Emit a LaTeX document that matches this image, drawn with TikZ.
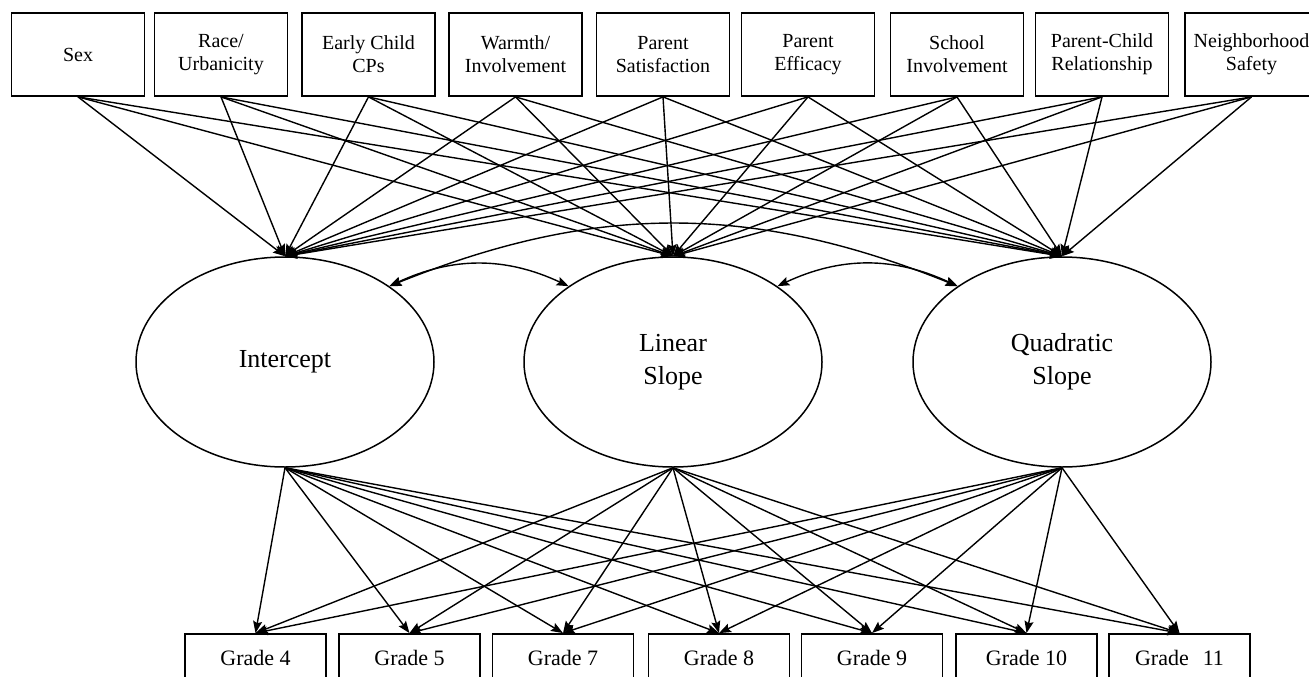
\documentclass[tikz,border=0pt]{standalone}
\usepackage{fontspec}
\setmainfont{Liberation Serif}
\usetikzlibrary{arrows.meta,shapes.geometric}
\begin{document}
\begin{tikzpicture}[x=1pt,y=-1pt,
  tbox/.style={draw,line width=1.8pt,minimum width=133pt,minimum height=83pt,inner sep=0pt,align=center,font=\fontsize{20}{23}\selectfont},
  gbox/.style={draw,line width=1.8pt,minimum width=141pt,minimum height=48pt,inner sep=0pt,font=\fontsize{22}{26}\selectfont},
  latent/.style={draw,ellipse,line width=1.5pt,minimum width=298pt,minimum height=210pt,inner sep=0pt,align=center,font=\fontsize{26}{33}\selectfont},
  reg/.style={line width=1.4pt,-{Stealth[length=12pt,width=9pt,inset=2pt]}},
  cov/.style={line width=1.4pt,{Stealth[length=12pt,width=9pt,inset=2pt]}-{Stealth[length=12pt,width=9pt,inset=2pt]}}]
\path[use as bounding box] (0,0) rectangle (1309,677);
\clip (0,0) rectangle (1309,677);
% predictors
\node[tbox] (t1) at (78,54.5) {Sex};
\node[tbox] (t2) at (221,54.5) {Race/\\Urbanicity};
\node[tbox] (t3) at (368.5,54.5) {Early Child\\CPs};
\node[tbox] (t4) at (515.5,54.5) {Warmth/\\Involvement};
\node[tbox] (t5) at (663,54.5) {Parent\\Satisfaction};
\node[tbox] (t6) at (808,54.5) {Parent\\Efficacy};
\node[tbox] (t7) at (957,54.5) {School\\Involvement};
\node[tbox] (t8) at (1102,54.5) {Parent-Child\\Relationship};
\node[tbox] (t9) at (1251.5,54.5) {Neighborhood\\Safety};
% latent factors
\node[latent] (I) at (285,362) {Intercept};
\node[latent] (L) at (673,362) {Linear\\Slope};
\node[latent] (Q) at (1062,362) {Quadratic\\Slope};
% outcomes
\node[gbox] (g1) at (255.5,658) {Grade 4};
\node[gbox] (g2) at (409.5,658) {Grade 5};
\node[gbox] (g3) at (563,658) {Grade 7};
\node[gbox] (g4) at (719,658) {Grade 8};
\node[gbox] (g5) at (872,658) {Grade 9};
\node[gbox] (g6) at (1026.5,658) {Grade 10};
\node[gbox] (g7) at (1179.5,658) {Grade\hspace{14pt}11};
% regressions on predictors
\foreach \t in {1,...,9}{
  \foreach \e in {I,L,Q}{
    \draw[reg] (t\t.south) -- (\e.north);
  }
}
% loadings
\foreach \e in {I,L,Q}{
  \foreach \g in {1,...,7}{
    \draw[reg] (\e.south) -- (g\g.north);
  }
}
% covariances
\draw[cov] (I.36) to[bend left=25] (L.144);
\draw[cov] (L.36) to[bend left=25] (Q.144);
\draw[cov] (I.36) to[bend left=22] (Q.144);
\end{tikzpicture}
\end{document}
